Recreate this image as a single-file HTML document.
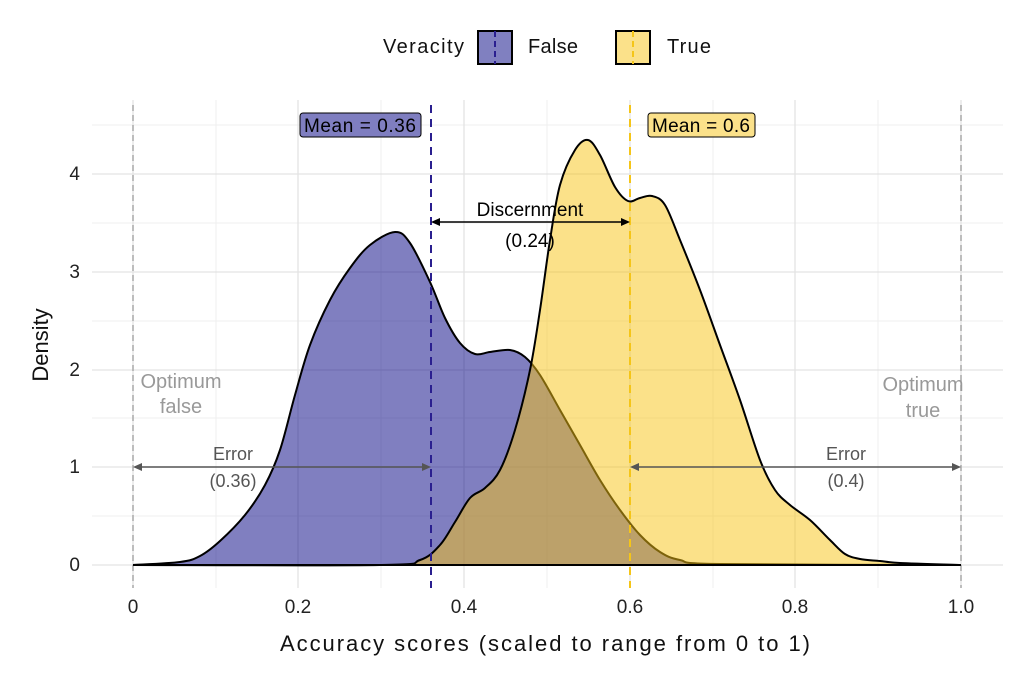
<!DOCTYPE html>
<html><head><meta charset="utf-8"><style>
body{margin:0;background:#fff;}
text{font-family:"Liberation Sans",sans-serif;}
</style></head><body>
<svg id="s" width="1024" height="674" xmlns="http://www.w3.org/2000/svg">
<rect width="1024" height="674" fill="#fff"/>
<g stroke="#efefef" stroke-width="1">
<line x1="92" x2="1003" y1="516" y2="516"/><line x1="92" x2="1003" y1="418" y2="418"/>
<line x1="92" x2="1003" y1="321" y2="321"/><line x1="92" x2="1003" y1="223" y2="223"/>
<line x1="92" x2="1003" y1="125" y2="125"/>
<line x1="216" x2="216" y1="100" y2="588"/><line x1="381" x2="381" y1="100" y2="588"/>
<line x1="547" x2="547" y1="100" y2="588"/><line x1="713" x2="713" y1="100" y2="588"/>
<line x1="878" x2="878" y1="100" y2="588"/>
</g>
<g stroke="#e3e3e3" stroke-width="1.3">
<line x1="92" x2="1003" y1="565" y2="565"/><line x1="92" x2="1003" y1="467" y2="467"/>
<line x1="92" x2="1003" y1="370" y2="370"/><line x1="92" x2="1003" y1="272" y2="272"/>
<line x1="92" x2="1003" y1="174" y2="174"/>
<line x1="133" x2="133" y1="100" y2="588"/><line x1="298" x2="298" y1="100" y2="588"/>
<line x1="464" x2="464" y1="100" y2="588"/><line x1="630" x2="630" y1="100" y2="588"/>
<line x1="795" x2="795" y1="100" y2="588"/><line x1="961" x2="961" y1="100" y2="588"/>
</g>
<g stroke="#aaa" stroke-width="1.5" stroke-dasharray="6,4">
<line x1="133" x2="133" y1="105" y2="588"/><line x1="961" x2="961" y1="105" y2="588"/>
</g>
<path id="pf" fill="rgb(1,0,130)" fill-opacity="0.5" stroke="#000" stroke-width="2"/>
<path id="pt" fill="rgb(247,195,19)" fill-opacity="0.5" stroke="#000" stroke-width="2"/>
<line x1="431" x2="431" y1="105" y2="588" stroke="#2a1f8f" stroke-width="2" stroke-dasharray="8,6"/>
<line x1="630" x2="630" y1="105" y2="588" stroke="#f5c518" stroke-width="2" stroke-dasharray="8,6"/>
<g stroke="#555" stroke-width="1.6" fill="#555">
<line x1="137" x2="427" y1="467" y2="467"/><path d="M133,467 l9,-4 v8z M431,467 l-9,-4 v8z" stroke="none"/>
<line x1="634" x2="957" y1="467" y2="467"/><path d="M630,467 l9,-4 v8z M961,467 l-9,-4 v8z" stroke="none"/>
</g>
<g stroke="#000" stroke-width="1.6" fill="#000">
<line x1="435" x2="626" y1="222" y2="222"/><path d="M431,222 l9,-4 v8z M630,222 l-9,-4 v8z" stroke="none"/>
</g>
<g font-size="18" fill="#555" text-anchor="middle">
<text x="233" y="460">Error</text><text x="233" y="487">(0.36)</text>
<text x="846" y="460">Error</text><text x="846" y="487">(0.4)</text>
</g>
<g font-size="20" fill="#999" text-anchor="middle">
<text x="181" y="388">Optimum</text><text x="181" y="413">false</text>
<text x="923" y="391">Optimum</text><text x="923" y="417">true</text>
</g>
<g font-size="19" fill="#000" text-anchor="middle">
<text x="530" y="216">Discernment</text><text x="530" y="247">(0.24)</text>
</g>
<rect x="300" y="113" width="121" height="24" rx="3" fill="#7f7ec0" stroke="#000" stroke-width="1"/>
<text x="360" y="132" font-size="19" text-anchor="middle" fill="#000" textLength="112">Mean = 0.36</text>
<rect x="648" y="113" width="107" height="24" rx="3" fill="#fbe18a" stroke="#000" stroke-width="1"/>
<text x="701" y="132" font-size="19" text-anchor="middle" fill="#000" textLength="98">Mean = 0.6</text>
<g font-size="19" fill="#222" text-anchor="end">
<text x="80" y="571">0</text><text x="80" y="473">1</text><text x="80" y="376">2</text>
<text x="80" y="278">3</text><text x="80" y="180">4</text>
</g>
<g font-size="19" fill="#222" text-anchor="middle">
<text x="133" y="613">0</text><text x="298" y="613">0.2</text><text x="464" y="613">0.4</text>
<text x="630" y="613">0.6</text><text x="795" y="613">0.8</text><text x="961" y="613">1.0</text>
</g>
<text x="545" y="651" font-size="22" text-anchor="middle" fill="#111" textLength="530">Accuracy scores (scaled to range from 0 to 1)</text>
<text transform="translate(48,345) rotate(-90)" font-size="22" text-anchor="middle" fill="#111">Density</text>
<text x="383" y="53" font-size="20" fill="#111" textLength="81">Veracity</text>
<rect x="478" y="31" width="34" height="33" fill="#8080c0" stroke="#000" stroke-width="2"/>
<line x1="495" x2="495" y1="31" y2="64" stroke="#2a1f8f" stroke-width="2" stroke-dasharray="6,4"/>
<text x="528" y="53" font-size="20" fill="#111" textLength="50">False</text>
<rect x="616" y="31" width="34" height="33" fill="#fbe18a" stroke="#000" stroke-width="2"/>
<line x1="633" x2="633" y1="31" y2="64" stroke="#f5c518" stroke-width="2" stroke-dasharray="6,4"/>
<text x="667" y="53" font-size="20" fill="#111" textLength="44">True</text>
</svg>
<script>
function cr(p){var d="M"+p[0][0]+","+p[0][1];for(var i=0;i<p.length-1;i++){var a=p[Math.max(i-1,0)],b=p[i],c=p[i+1],e=p[Math.min(i+2,p.length-1)];
d+=" C"+(b[0]+(c[0]-a[0])/6)+","+(b[1]+(c[1]-a[1])/6)+" "+(c[0]-(e[0]-b[0])/6)+","+(c[1]-(e[1]-b[1])/6)+" "+c[0]+","+c[1];}return d;}
var f=[[133,565],[180,562],[200,556],[220,541],[245,515],[265,485],[280,450],[295,395],[310,345],[330,300],[350,268],[370,245],[395,232],[410,243],[430,282],[445,318],[460,343],[475,354],[490,352],[510,350],[525,357],[540,375],[560,410],[580,445],[600,480],[620,510],[640,535],[660,552],[680,560],[720,564],[961,565]];
var t=[[133,565],[380,565],[420,560],[440,545],[455,522],[470,498],[485,488],[500,470],[515,430],[530,370],[540,310],[550,240],[560,185],[575,150],[588,140],[600,155],[615,187],[628,201],[640,198],[652,196],[665,205],[680,240],[700,290],[720,345],[740,400],[760,460],[775,490],[790,505],[810,520],[830,540],[845,554],[860,559],[880,561],[900,563],[961,565]];
document.getElementById("pf").setAttribute("d",cr(f)+" Z");
document.getElementById("pt").setAttribute("d",cr(t)+" Z");
</script>
</body></html>
